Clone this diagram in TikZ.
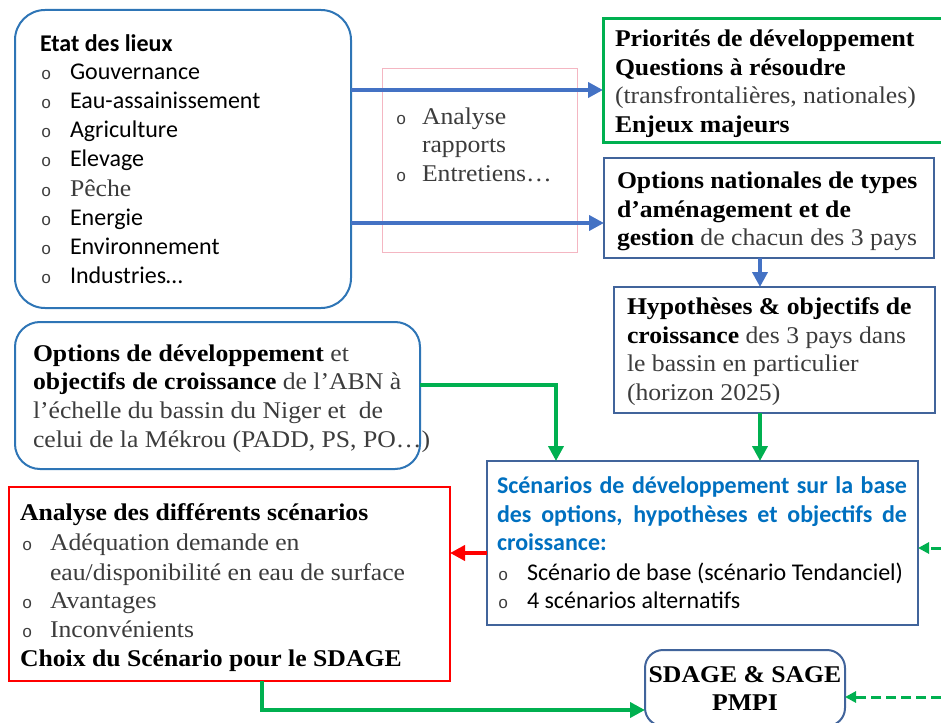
\documentclass[tikz,border=0pt]{standalone}
\usepackage{fontspec}
\setmainfont{Carlito}
\newfontfamily\cam[FakeStretch=1.07]{Liberation Serif}
\newfontfamily\bul{Liberation Mono}
\usetikzlibrary{arrows.meta}
\definecolor{boxblue}{RGB}{46,117,182}
\definecolor{arrblue}{RGB}{68,114,196}
\definecolor{navy}{RGB}{65,100,155}
\definecolor{mygreen}{RGB}{0,176,80}
\definecolor{txtblue}{RGB}{0,112,192}
\definecolor{pinkline}{RGB}{244,182,194}
\definecolor{txtgray}{RGB}{60,60,60}
\begin{document}
\begin{tikzpicture}[x=1pt,y=-1pt,
  every node/.style={inner sep=0pt, outer sep=0pt},
  tl/.style={anchor=base west},
  cal/.style={tl, font=\fontsize{24}{29}\selectfont, text=black},
  calb/.style={tl, font=\fontsize{24}{29}\selectfont\bfseries, text=black},
  ser/.style={tl, font=\fontsize{24}{29}\selectfont\cam, text=txtgray},
  serb/.style={tl, font=\fontsize{24}{29}\selectfont\cam\bfseries, text=black},
  bullet/.style={tl, font=\fontsize{17}{20}\selectfont\bul, text=txtgray},
  box/.style={draw, anchor=north west, line width=2pt},
  barrow/.style={draw=arrblue, line width=4pt, -{Triangle[length=15pt,width=15pt]}},
  garrow/.style={draw=mygreen, line width=4pt, -{Triangle[length=15pt,width=15pt]}},
  rarrow/.style={draw=red, line width=4pt, -{Triangle[length=15pt,width=15pt]}},
  dgarrow/.style={draw=mygreen, line width=3pt, dash pattern=on 10pt off 5pt, -{Triangle[length=11pt,width=11pt]}}
]
\useasboundingbox (0,0) rectangle (941,722);

% boxes
\node[box, draw=boxblue, rounded corners=30pt, minimum width=336pt, minimum height=298pt] (etat) at (15,10) {};
\node[box, draw=pinkline, line width=0.8pt, minimum width=195pt, minimum height=184pt] (pink) at (382,68) {};
\node[box, draw=mygreen, line width=3pt, minimum width=345pt, minimum height=124pt] (prio) at (603,19) {};
\node[box, draw=navy, minimum width=330pt, minimum height=100pt] (optnat) at (604,158) {};
\node[box, draw=navy, minimum width=321pt, minimum height=126pt] (hyp) at (614,287) {};
\node[box, draw=boxblue, rounded corners=25pt, minimum width=405pt, minimum height=147pt] (optdev) at (15,322) {};
\node[box, draw=navy, minimum width=431pt, minimum height=164pt] (scen) at (487,461) {};
\node[box, draw=red, minimum width=441pt, minimum height=194pt] (anal) at (9,487) {};
\node[box, draw=navy, rounded corners=18pt, minimum width=200pt, minimum height=76pt] (sdage) at (645,650) {};

% Etat des lieux
\node[calb] (e0) at (40,52) {Etat des lieux};
\foreach \y/\t [count=\i] in {80/Gouvernance,109/Eau-assainissement,138/Agriculture,167/Elevage,225/Energie,254/Environnement,283/Industries…}{
  \node[cal] (e\i) at (70,\y) {\t};
}
\foreach \y [count=\i] in {80,109,138,167,196,225,254,283}{
  \node[bullet] (eb\i) at (41,\y) {o};
}
\node[ser] (epeche) at (70,196) {Pêche};

% pink box text
\node[bullet] (pb1) at (396,125) {o};
\node[ser] (p1) at (422,125) {Analyse};
\node[ser] (p2) at (422,153) {rapports};
\node[bullet] (pb2) at (396,182) {o};
\node[ser] (p3) at (422,182) {Entretiens…};

% Priorites
\node[serb] (r1) at (615,47) {Priorités de développement};
\node[serb] (r2) at (615,76) {Questions à résoudre};
\node[ser] (r3) at (615,104) {(transfrontalières, nationales)};
\node[serb] (r4) at (615,133) {Enjeux majeurs};

% Options nationales
\node[serb] (n1) at (617,188) {Options nationales de types};
\node[serb] (n2) at (617,217) {d’aménagement et de};
\node[ser] (n3) at (617,245) {\textcolor{black}{\bfseries gestion} de chacun des 3 pays};

% Hypotheses
\node[serb] (h1) at (627,314) {Hypothèses \& objectifs de};
\node[ser] (h2) at (627,343) {\textcolor{black}{\bfseries croissance} des 3 pays dans};
\node[ser] (h3) at (627,371) {le bassin en particulier};
\node[ser] (h4) at (627,400) {(horizon 2025)};

% Options de developpement
\node[ser] (o1) at (33,361) {\textcolor{black}{\bfseries Options de développement} et};
\node[ser] (o2) at (33,389) {\textcolor{black}{\bfseries objectifs de croissance} de l’ABN à};
\node[ser] (o3) at (33,418) {l’échelle du bassin du Niger et\ \ de};
\node[ser] (o4) at (33,447) {celui de la Mékrou (PADD, PS, PO…)};

% Scenarios
\node[calb, text=txtblue] (s1) at (497,493) {\makebox[410pt][s]{Scénarios de développement sur la base}};
\node[calb, text=txtblue] (s2) at (497,522) {\makebox[410pt][s]{des options, hypothèses et objectifs de}};
\node[calb, text=txtblue] (s3) at (497,550) {croissance:};
\node[bullet] (sb1) at (498,580) {o};
\node[cal] (s4) at (527,580) {Scénario de base (scénario Tendanciel)};
\node[bullet] (sb2) at (498,608) {o};
\node[cal] (s5) at (527,608) {4 scénarios alternatifs};

% Analyse
\node[serb] (a1) at (20,520) {Analyse des différents scénarios};
\node[bullet] (ab1) at (22,550) {o};
\node[ser] (a2) at (50,550) {Adéquation demande en};
\node[ser] (a3) at (50,580) {eau/disponibilité en eau de surface};
\node[bullet] (ab2) at (22,608) {o};
\node[ser] (a4) at (50,608) {Avantages};
\node[bullet] (ab3) at (22,637) {o};
\node[ser] (a5) at (50,637) {Inconvénients};
\node[serb] (a6) at (20,666) {Choix du Scénario pour le SDAGE};

% SDAGE
\node[serb, anchor=base] (d1) at (745,682) {SDAGE \& SAGE};
\node[serb, anchor=base] (d2) at (745,710) {PMPI};

% connectors
\draw[barrow] (etat.east |- 0,90) -- (prio.west |- 0,90);
\draw[barrow] (etat.east |- 0,223) -- (optnat.west |- 0,223);
\draw[barrow] (optnat.south -| 760,0) -- (hyp.north -| 760,0);
\draw[garrow] (hyp.south -| 760,0) -- (scen.north -| 760,0);
\draw[garrow] (optdev.east |- 0,385) -| (scen.north -| 556,0);
\draw[rarrow] (scen.west |- 0,553) -- (anal.east |- 0,553);
\draw[garrow] (anal.south -| 262,0) |- (sdage.west |- 0,710);
\coordinate (rin1) at (941,697);
\coordinate (rin2) at (941,548);
\draw[dgarrow] (rin1) -- (sdage.east |- rin1);
\draw[dgarrow] (rin2) -- (scen.east |- rin2);
\end{tikzpicture}
\end{document}
